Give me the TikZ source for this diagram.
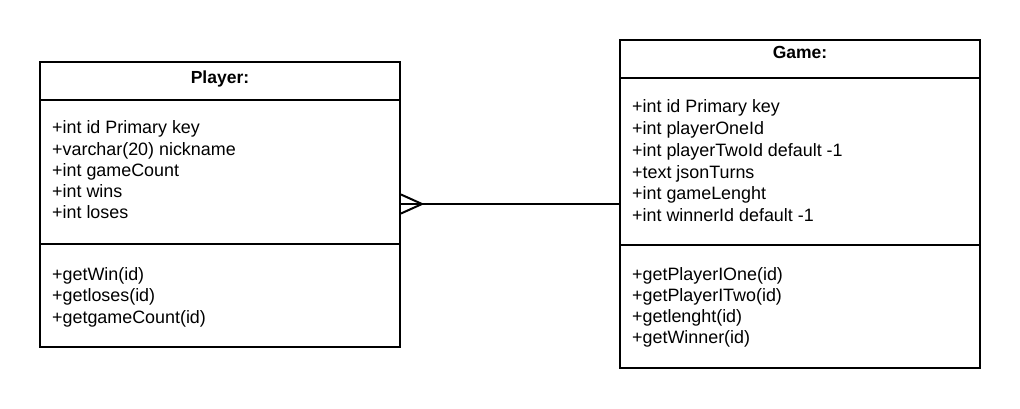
\documentclass[tikz,border=0pt]{standalone}
\usepackage{fontspec}
\setmainfont{Liberation Sans}
\begin{document}
\begin{tikzpicture}[x=1pt,y=-1pt,
  box/.style={draw=black,line width=2pt,rectangle,inner sep=0pt},
  ttl/.style={font={\fontsize{17.5}{20}\selectfont\bfseries},anchor=base,inner sep=0pt},
  row/.style={font={\fontsize{17.9}{20}\selectfont},anchor=base west,inner sep=0pt},
  link/.style={line width=2pt}]
\useasboundingbox[fill=white] (0,0) rectangle (1020,409);
% Player
\node[box,minimum width=360pt,minimum height=285pt] (player) at (220,204.5) {};
\coordinate (pd1l) at (40,100); \coordinate (pd1r) at (400,100);
\coordinate (pd2l) at (40,244); \coordinate (pd2r) at (400,244);
\draw[line width=2pt] (pd1l) -- (pd1r);
\draw[line width=2pt] (pd2l) -- (pd2r);
\node[ttl] (ptitle) at (220,83.3) {Player:};
\node[row] (p1) at (52,134) {+int id Primary key};
\node[row] (p2) at (52,155.2) {+varchar(20) nickname};
\node[row] (p3) at (52,176.5) {+int gameCount};
\node[row] (p4) at (52,197.7) {+int wins};
\node[row] (p5) at (52,218.8) {+int loses};
\node[row] (pm1) at (52,280.7) {+getWin(id)};
\node[row] (pm2) at (52,301.9) {+getloses(id)};
\node[row] (pm3) at (52,323) {+getgameCount(id)};
% Game
\node[box,minimum width=360pt,minimum height=328pt] (game) at (800,204) {};
\coordinate (gd1l) at (620,78); \coordinate (gd1r) at (980,78);
\coordinate (gd2l) at (620,245); \coordinate (gd2r) at (980,245);
\draw[line width=2pt] (gd1l) -- (gd1r);
\draw[line width=2pt] (gd2l) -- (gd2r);
\node[ttl] (gtitle) at (800,58.3) {Game:};
\node[row] (g1) at (632,113) {+int id Primary key};
\node[row] (g2) at (632,134.7) {+int playerOneId};
\node[row] (g3) at (632,156.4) {+int playerTwoId default -1};
\node[row] (g4) at (632,178.1) {+text jsonTurns};
\node[row] (g5) at (632,199.8) {+int gameLenght};
\node[row] (g6) at (632,221.5) {+int winnerId default -1};
\node[row] (gm1) at (632,280) {+getPlayerIOne(id)};
\node[row] (gm2) at (632,301) {+getPlayerITwo(id)};
\node[row] (gm3) at (632,322) {+getlenght(id)};
\node[row] (gm4) at (632,343) {+getWinner(id)};
% connector with crow's foot at Player
\coordinate (cf) at (422,204);
\coordinate (cfu) at (401,194.5);
\coordinate (cfd) at (401,213.5);
\draw[link] (game.west -| player.east) -- (game.west);
\draw[link,line join=miter] (cfu) -- (cf) -- (cfd);
\end{tikzpicture}
\end{document}
